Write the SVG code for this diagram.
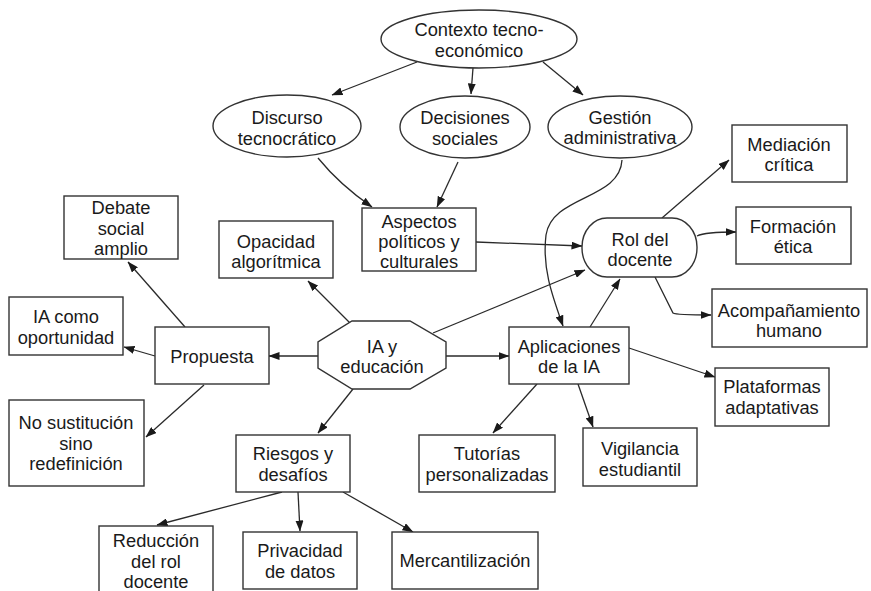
<svg xmlns="http://www.w3.org/2000/svg" width="871" height="591" viewBox="0 0 871 591">
<defs>
<marker id="ah" markerWidth="11" markerHeight="8" refX="10.5" refY="4" orient="auto" markerUnits="userSpaceOnUse">
<path d="M0,0 L11,4 L0,8 z" fill="#1a1a1a"/>
</marker>
<style>
.n{fill:#fff;stroke:#333;stroke-width:1.4}
.t{font-family:"Liberation Sans",Arial,Helvetica,sans-serif;font-size:18.3px;fill:#1a1a1a;text-anchor:middle}
.c path,.c line,.c polyline{fill:none;stroke:#2a2a2a;stroke-width:1.3;marker-end:url(#ah)}
</style>
</defs>
<rect width="871" height="591" fill="#fff"/>
<g class="c" id="connectors">
<line x1="417" y1="62" x2="332" y2="95"/>
<line x1="473" y1="68" x2="471" y2="94"/>
<line x1="543" y1="62" x2="583" y2="95"/>
<path d="M318,158 Q340,185 372,207"/>
<line x1="458" y1="162" x2="437" y2="207"/>
<path d="M622,160 C620,200 552,195 546,235 C542,268 552,295 563,326"/>
<line x1="476" y1="242" x2="582" y2="246"/>
<line x1="350" y1="323" x2="308" y2="281"/>
<line x1="185" y1="327" x2="128" y2="262"/>
<line x1="155" y1="356" x2="124" y2="347"/>
<line x1="204" y1="385" x2="146" y2="437"/>
<line x1="318" y1="356" x2="269" y2="356"/>
<line x1="353" y1="389" x2="318" y2="433"/>
<line x1="446" y1="356" x2="509" y2="356"/>
<line x1="433" y1="333" x2="585" y2="270"/>
<line x1="590" y1="327" x2="620" y2="279"/>
<line x1="662" y1="218" x2="729" y2="160"/>
<path d="M697,236 Q705,232 736,232"/>
<path d="M655,277 L673,313 Q676,315 711,315"/>
<line x1="629" y1="348" x2="715" y2="377"/>
<line x1="537" y1="384" x2="493" y2="433"/>
<line x1="578" y1="384" x2="593" y2="427"/>
<line x1="282" y1="492" x2="157" y2="525"/>
<line x1="298" y1="492" x2="300" y2="531"/>
<line x1="343" y1="492" x2="413" y2="532"/>
</g>
<g id="contexto"><ellipse class="n" cx="479" cy="39" rx="98" ry="29"/><text class="t" x="479" y="36">Contexto tecno-</text><text class="t" x="479" y="57">económico</text></g>
<g id="discurso"><ellipse class="n" cx="287" cy="126" rx="74" ry="31"/><text class="t" x="287" y="124">Discurso</text><text class="t" x="287" y="145">tecnocrático</text></g>
<g id="decisiones"><ellipse class="n" cx="465" cy="127" rx="65" ry="31"/><text class="t" x="465" y="124">Decisiones</text><text class="t" x="465" y="145">sociales</text></g>
<g id="gestion"><ellipse class="n" cx="620" cy="127" rx="72" ry="31"/><text class="t" x="620" y="124">Gestión</text><text class="t" x="620" y="144">administrativa</text></g>
<g id="aspectos"><rect class="n" x="362" y="208" width="114" height="63"/><text class="t" x="419" y="228">Aspectos</text><text class="t" x="419" y="248">políticos y</text><text class="t" x="419" y="268">culturales</text></g>
<g id="opacidad"><rect class="n" x="219" y="221" width="114" height="57"/><text class="t" x="276" y="248">Opacidad</text><text class="t" x="276" y="268">algorítmica</text></g>
<g id="debate"><rect class="n" x="64" y="196" width="114" height="63"/><text class="t" x="121" y="214">Debate</text><text class="t" x="121" y="235">social</text><text class="t" x="121" y="255">amplio</text></g>
<g id="oportunidad"><rect class="n" x="9" y="297" width="114" height="58"/><text class="t" x="66" y="323">IA como</text><text class="t" x="66" y="344">oportunidad</text></g>
<g id="propuesta"><rect class="n" x="155" y="327" width="114" height="57"/><text class="t" x="212" y="363">Propuesta</text></g>
<g id="nosustitucion"><rect class="n" x="9" y="400" width="135" height="86"/><text class="t" x="76" y="429">No sustitución</text><text class="t" x="76" y="450">sino</text><text class="t" x="76" y="470">redefinición</text></g>
<g id="iaeducacion"><polygon class="n" points="352,321 410,321 446,342 446,368 410,389 352,389 318,368 318,342"/><text class="t" x="382" y="353">IA y</text><text class="t" x="382" y="373">educación</text></g>
<g id="aplicaciones"><rect class="n" x="509" y="327" width="120" height="57"/><text class="t" x="569" y="353">Aplicaciones</text><text class="t" x="569" y="373">de la IA</text></g>
<g id="rol"><rect class="n" x="582" y="218" width="115" height="59" rx="25" ry="29"/><text class="t" x="640" y="246">Rol del</text><text class="t" x="640" y="266">docente</text></g>
<g id="mediacion"><rect class="n" x="732" y="125" width="115" height="57"/><text class="t" x="789" y="151">Mediación</text><text class="t" x="789" y="171">crítica</text></g>
<g id="formacion"><rect class="n" x="736" y="207" width="115" height="57"/><text class="t" x="793" y="233">Formación</text><text class="t" x="793" y="253">ética</text></g>
<g id="acompanamiento"><rect class="n" x="712" y="289" width="155" height="58"/><text class="t" x="789" y="317">Acompañamiento</text><text class="t" x="789" y="337">humano</text></g>
<g id="plataformas"><rect class="n" x="715" y="368" width="114" height="58"/><text class="t" x="772" y="393">Plataformas</text><text class="t" x="772" y="414">adaptativas</text></g>
<g id="tutorias"><rect class="n" x="419" y="435" width="136" height="57"/><text class="t" x="487" y="460">Tutorías</text><text class="t" x="487" y="481">personalizadas</text></g>
<g id="vigilancia"><rect class="n" x="583" y="428" width="114" height="58"/><text class="t" x="640" y="455">Vigilancia</text><text class="t" x="640" y="476">estudiantil</text></g>
<g id="riesgos"><rect class="n" x="236" y="435" width="114" height="57"/><text class="t" x="293" y="460">Riesgos y</text><text class="t" x="293" y="481">desafíos</text></g>
<g id="reduccion"><rect class="n" x="99" y="526" width="114" height="75"/><text class="t" x="156" y="547">Reducción</text><text class="t" x="156" y="568">del rol</text><text class="t" x="156" y="588">docente</text></g>
<g id="privacidad"><rect class="n" x="243" y="532" width="114" height="57"/><text class="t" x="300" y="557">Privacidad</text><text class="t" x="300" y="578">de datos</text></g>
<g id="mercantilizacion"><rect class="n" x="392" y="532" width="146" height="57"/><text class="t" x="465" y="567">Mercantilización</text></g>
</svg>
